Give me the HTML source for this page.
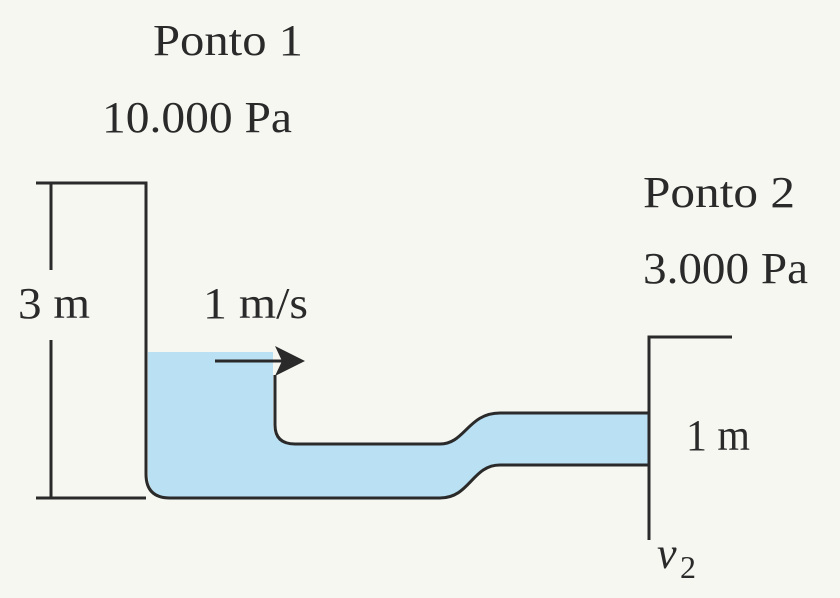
<!DOCTYPE html>
<html><head><style>html,body{margin:0;padding:0;background:#f7f7f2}</style></head>
<body>
<svg width="840" height="593" viewBox="0 0 840 593" xmlns="http://www.w3.org/2000/svg" font-family="Liberation Serif, serif" fill="#2a2a2a">
<rect width="840" height="593" fill="#f7f7f2"/>
<path d="M148 352 L273 352 L273 425 Q273 444 293 444 L440 444 C465 444 468 413 500 413 L648 413 L648 465 L500 465 C470 465 470 498 440 498 L172 498 Q148 498 148 474 Z" fill="#b9e0f3"/>
<g stroke="#2a2a2a" stroke-width="3" fill="none">
<path d="M36 183 L146 183 L146 474 Q146 498 170 498 L440 498 C470 498 472 465 500 465 L648 465"/>
<path d="M275 375 L275 425 Q275 444 295 444 L440 444 C465 444 468 413 500 413 L648 413"/>
<path d="M649 540 L649 337 L732 337"/>
<path d="M51 183 L51 270 M51 340 L51 498"/>
<path d="M36 498 L146 498"/>
<path d="M215 361 L282 361"/>
</g>
<path d="M275 346 L305 361 L275 376 L282 361 Z" fill="#2a2a2a"/>
<g font-size="44" lengthAdjust="spacingAndGlyphs">
<text x="153" y="55" textLength="150" lengthAdjust="spacingAndGlyphs">Ponto 1</text>
<text x="102" y="132" textLength="190" lengthAdjust="spacingAndGlyphs">10.000 Pa</text>
<text x="643" y="207" textLength="152" lengthAdjust="spacingAndGlyphs">Ponto 2</text>
<text x="643" y="283" textLength="165" lengthAdjust="spacingAndGlyphs">3.000 Pa</text>
<text x="18" y="318" textLength="72" lengthAdjust="spacingAndGlyphs">3 m</text>
<text x="203" y="318" textLength="105" lengthAdjust="spacingAndGlyphs">1 m/s</text>
<text x="686" y="450" textLength="64" lengthAdjust="spacingAndGlyphs">1 m</text>
<text x="657" y="568" font-style="italic">v</text>
<text x="680" y="578" font-size="32">2</text>
</g>
</svg>
</body></html>
